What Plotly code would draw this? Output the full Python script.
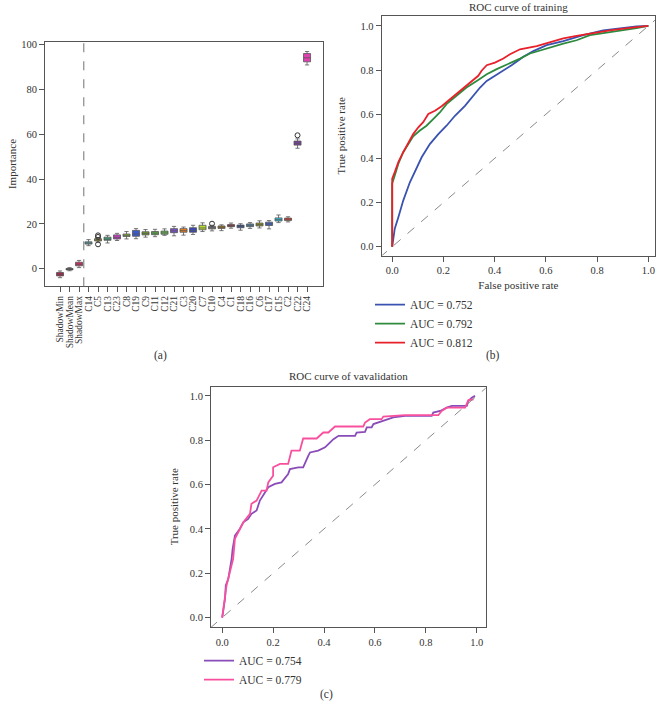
import plotly.graph_objects as go

W, H = 656, 702
FONT = "Liberation Serif"
TXT = "#333333"
AX = "#555555"

# ---------------- Panel (a): Boruta importance ----------------
FEATURES = ["ShadowMin", "ShadowMean", "ShadowMax", "C14", "C5", "C13", "C23", "C8", "C19",
            "C9", "C11", "C12", "C21", "C3", "C20", "C7", "C10", "C4", "C1", "C18", "C16",
            "C6", "C17", "C15", "C2", "C22", "C24"]
IMP_LOW = [-4.0, -0.9, 0.5, 10.3, 11.8, 11.5, 12.6, 13.3, 13.4, 14.1, 14.3, 14.9, 14.7, 15.0,
           15.3, 16.6, 16.9, 17.0, 18.1, 17.2, 18.0, 18.2, 17.8, 20.6, 20.9, 53.8, 91.0]
IMP_Q1 = [-3.2, -0.5, 1.3, 11.0, 12.4, 12.7, 13.3, 14.4, 14.5, 15.1, 15.2, 15.4, 16.1, 16.3,
          16.3, 17.4, 17.8, 18.0, 18.8, 18.3, 18.8, 19.1, 19.3, 21.3, 21.5, 55.2, 92.4]
IMP_MED = [-2.5, -0.2, 2.0, 11.4, 12.8, 13.2, 14.0, 14.9, 15.5, 15.8, 15.9, 16.0, 16.9, 17.0,
           17.1, 18.2, 18.2, 18.5, 19.2, 18.9, 19.4, 19.7, 20.0, 21.9, 22.1, 56.0, 94.2]
IMP_Q3 = [-1.7, 0.1, 2.9, 12.0, 13.4, 14.1, 15.1, 15.5, 17.1, 16.5, 16.6, 16.8, 17.9, 17.9,
          18.3, 19.4, 18.9, 19.1, 19.7, 19.5, 20.0, 20.4, 20.8, 22.7, 22.6, 57.0, 96.1]
IMP_HIGH = [-1.0, 0.5, 3.7, 13.0, 13.9, 14.9, 15.8, 16.6, 17.9, 17.5, 17.6, 17.8, 18.9, 18.6,
            19.4, 20.5, 19.4, 19.6, 20.4, 20.1, 20.6, 21.4, 21.5, 24.0, 23.2, 58.0, 97.0]
BOX_COLORS = ["#b0204a", "#222222", "#d02a62", "#5aa8b0", "#b09a20", "#3f9f78", "#c040c0",
              "#8ac040", "#3a5ad0", "#78a030", "#5ab040", "#66c050", "#7a50d0", "#f08020",
              "#3848b8", "#b8dc30", "#707070", "#a87818", "#a81a2a", "#2a4aa0", "#4a8ab0",
              "#9a9a20", "#3a60c8", "#30c0e0", "#f03a20", "#7a40a0", "#e040b0"]
OUTLIER_FEATURES = ["C5", "C5", "C5", "C10", "C22"]
OUTLIER_VALUES = [10.9, 14.2, 14.9, 20.1, 59.6]
IMP_TICKS = [0, 20, 40, 60, 80, 100]

# ---------------- Panel (b): ROC of training ----------------
TRAIN_LABELS = ["AUC = 0.752", "AUC = 0.792", "AUC = 0.812"]
TRAIN_COLORS = ["#3a52b0", "#2e8b3e", "#e8202a"]
TRAIN_FPR_1 = [0, 0.004, 0.01, 0.024, 0.043, 0.069, 0.095, 0.115, 0.147, 0.18, 0.212, 0.245,
               0.284, 0.323, 0.343, 0.369, 0.401, 0.434, 0.466, 0.499, 0.512, 0.551, 0.603,
               0.668, 0.746, 0.824, 0.876, 0.954, 1.0]
TRAIN_TPR_1 = [0, 0.044, 0.082, 0.134, 0.209, 0.292, 0.352, 0.405, 0.465, 0.51, 0.548, 0.593,
               0.638, 0.691, 0.721, 0.751, 0.774, 0.797, 0.822, 0.849, 0.86, 0.886, 0.913,
               0.931, 0.958, 0.98, 0.988, 0.998, 1.0]
TRAIN_FPR_2 = [0, 0, 0.01, 0.024, 0.043, 0.063, 0.082, 0.108, 0.134, 0.16, 0.186, 0.212, 0.251,
               0.29, 0.33, 0.369, 0.408, 0.453, 0.499, 0.538, 0.603, 0.668, 0.72, 0.772, 0.837,
               0.902, 0.954, 1.0]
TRAIN_TPR_2 = [0, 0.286, 0.323, 0.376, 0.428, 0.466, 0.5, 0.526, 0.548, 0.578, 0.608, 0.646,
               0.684, 0.721, 0.751, 0.781, 0.804, 0.826, 0.852, 0.875, 0.898, 0.92, 0.935, 0.958,
               0.97, 0.98, 0.99, 1.0]
TRAIN_FPR_3 = [0, 0, 0.01, 0.024, 0.043, 0.063, 0.082, 0.102, 0.121, 0.141, 0.167, 0.193, 0.219,
               0.245, 0.271, 0.304, 0.336, 0.349, 0.369, 0.401, 0.434, 0.46, 0.499, 0.564, 0.616,
               0.668, 0.72, 0.772, 0.85, 0.928, 0.987, 1.0]
TRAIN_TPR_3 = [0, 0.308, 0.338, 0.383, 0.428, 0.473, 0.51, 0.541, 0.564, 0.601, 0.616, 0.636,
               0.661, 0.687, 0.714, 0.744, 0.774, 0.797, 0.822, 0.834, 0.852, 0.872, 0.894,
               0.908, 0.925, 0.943, 0.955, 0.965, 0.98, 0.991, 1.0, 1.0]

# ---------------- Panel (c): ROC of validation ----------------
VALID_LABELS = ["AUC = 0.754", "AUC = 0.779"]
VALID_COLORS = ["#8a4cb8", "#f8509e"]
VALID_FPR_1 = [0, 0.011, 0.014, 0.024, 0.037, 0.041, 0.05, 0.069, 0.083, 0.102, 0.115, 0.135,
               0.148, 0.168, 0.181, 0.207, 0.233, 0.259, 0.266, 0.299, 0.318, 0.338, 0.345,
               0.377, 0.404, 0.417, 0.437, 0.457, 0.522, 0.528, 0.561, 0.568, 0.587, 0.594,
               0.613, 0.626, 0.653, 0.672, 0.718, 0.823, 0.829, 0.856, 0.882, 0.902, 0.961,
               0.967, 0.98, 0.993]
VALID_TPR_1 = [0, 0.085, 0.145, 0.175, 0.265, 0.31, 0.37, 0.4, 0.43, 0.445, 0.468, 0.483, 0.528,
               0.565, 0.588, 0.603, 0.61, 0.648, 0.67, 0.678, 0.678, 0.73, 0.745, 0.753, 0.768,
               0.783, 0.805, 0.82, 0.82, 0.835, 0.838, 0.858, 0.858, 0.873, 0.88, 0.888, 0.895,
               0.903, 0.91, 0.91, 0.925, 0.932, 0.947, 0.955, 0.955, 0.977, 0.992, 1.0]
VALID_FPR_2 = [0, 0.011, 0.017, 0.03, 0.043, 0.05, 0.063, 0.083, 0.109, 0.115, 0.135, 0.155,
               0.174, 0.181, 0.2, 0.2, 0.227, 0.259, 0.272, 0.305, 0.318, 0.371, 0.397, 0.417,
               0.443, 0.554, 0.561, 0.58, 0.626, 0.633, 0.718, 0.849, 0.862, 0.882, 0.954, 0.961,
               0.967, 0.987]
VALID_TPR_2 = [0, 0.085, 0.145, 0.205, 0.265, 0.355, 0.385, 0.43, 0.468, 0.513, 0.528, 0.573,
               0.573, 0.61, 0.64, 0.678, 0.693, 0.693, 0.753, 0.753, 0.808, 0.808, 0.835, 0.835,
               0.862, 0.862, 0.88, 0.895, 0.895, 0.907, 0.913, 0.913, 0.932, 0.947, 0.947, 0.962,
               0.981, 0.985]

DIAG = [-0.1, 1.1]
ROC_TICKS = [0.0, 0.2, 0.4, 0.6, 0.8, 1.0]


def px_x(p):
    return p / W


def px_y(p):
    return 1 - p / H


fig = go.Figure()

# ----- boxes -----
idx = list(range(len(FEATURES)))
for i, name in enumerate(FEATURES):
    fig.add_trace(go.Box(
        x=[i], q1=[IMP_Q1[i]], median=[IMP_MED[i]], q3=[IMP_Q3[i]],
        lowerfence=[IMP_LOW[i]], upperfence=[IMP_HIGH[i]],
        fillcolor=BOX_COLORS[i], line=dict(color="#555555", width=0.8),
        width=0.74, whiskerwidth=0.6, boxpoints=False, name=name,
        showlegend=False, xaxis="x", yaxis="y", hoverinfo="skip"))

fig.add_trace(go.Scatter(
    x=[FEATURES.index(f) for f in OUTLIER_FEATURES], y=OUTLIER_VALUES, mode="markers",
    marker=dict(symbol="circle-open", size=5, color="#333333", line=dict(width=1)),
    showlegend=False, xaxis="x", yaxis="y", hoverinfo="skip"))

# ----- ROC training -----
for fpr, tpr, lab, col in zip([TRAIN_FPR_1, TRAIN_FPR_2, TRAIN_FPR_3],
                              [TRAIN_TPR_1, TRAIN_TPR_2, TRAIN_TPR_3],
                              TRAIN_LABELS, TRAIN_COLORS):
    fig.add_trace(go.Scatter(x=fpr, y=tpr, mode="lines", name=lab,
                             line=dict(color=col, width=1.8),
                             xaxis="x2", yaxis="y2", legend="legend"))
fig.add_trace(go.Scatter(x=DIAG, y=DIAG, mode="lines", showlegend=False,
                         line=dict(color="#8a8a8a", width=1, dash="dash"),
                         xaxis="x2", yaxis="y2"))

# ----- ROC validation -----
for fpr, tpr, lab, col in zip([VALID_FPR_1, VALID_FPR_2], [VALID_TPR_1, VALID_TPR_2],
                              VALID_LABELS, VALID_COLORS):
    fig.add_trace(go.Scatter(x=fpr, y=tpr, mode="lines", name=lab,
                             line=dict(color=col, width=1.8),
                             xaxis="x3", yaxis="y3", legend="legend2"))
fig.add_trace(go.Scatter(x=DIAG, y=DIAG, mode="lines", showlegend=False,
                         line=dict(color="#8a8a8a", width=1, dash="dash"),
                         xaxis="x3", yaxis="y3"))

axis_common = dict(showline=True, linecolor=AX, linewidth=1, mirror=True, ticks="outside",
                   ticklen=5, tickcolor=AX, showgrid=False, zeroline=False,
                   ticklabeloverflow="allow",
                   tickfont=dict(family=FONT, size=10.5, color=TXT))

fig.update_layout(
    width=W, height=H, margin=dict(l=0, r=0, t=0, b=0),
    paper_bgcolor="white", plot_bgcolor="white",
    font=dict(family=FONT, color=TXT),
    boxmode="overlay",
    xaxis=dict(domain=[px_x(45), px_x(323)], range=[-1.58, 27.68], anchor="y",
               tickmode="array", tickvals=idx, ticktext=FEATURES, tickangle=-90,
               **{**axis_common, "tickfont": dict(family=FONT, size=9.5, color=TXT)}),
    yaxis=dict(domain=[px_y(285), px_y(40)], range=[-7.8, 101.3], anchor="x",
               tickmode="array", tickvals=IMP_TICKS,
               title=dict(text="Importance", standoff=2,
                          font=dict(family=FONT, size=11, color=TXT)),
               **axis_common),
    xaxis2=dict(domain=[px_x(381.7), px_x(655)], range=[-0.041, 1.026], anchor="y2",
                tickmode="array", tickvals=ROC_TICKS, tickformat=".1f",
                title=dict(text="False positive rate", standoff=6,
                           font=dict(family=FONT, size=11, color=TXT)),
                **axis_common),
    yaxis2=dict(domain=[px_y(254.3), px_y(14)], range=[-0.04, 1.045], anchor="x2",
                tickmode="array", tickvals=ROC_TICKS, tickformat=".1f",
                title=dict(text="True positive rate", standoff=12,
                           font=dict(family=FONT, size=11, color=TXT)),
                **axis_common),
    xaxis3=dict(domain=[px_x(211), px_x(485.7)], range=[-0.044, 1.035], anchor="y3",
                tickmode="array", tickvals=ROC_TICKS, tickformat=".1f", **axis_common),
    yaxis3=dict(domain=[px_y(626.7), px_y(385.7)], range=[-0.042, 1.042], anchor="x3",
                tickmode="array", tickvals=ROC_TICKS, tickformat=".1f",
                title=dict(text="True positive rate", standoff=8,
                           font=dict(family=FONT, size=11, color=TXT)),
                **axis_common),
    legend=dict(x=px_x(370), y=px_y(289), xanchor="left", yanchor="top",
                bgcolor="rgba(0,0,0,0)", font=dict(family=FONT, size=11.5, color=TXT),
                tracegroupgap=0),
    legend2=dict(x=px_x(199), y=px_y(646), xanchor="left", yanchor="top",
                 bgcolor="rgba(0,0,0,0)", font=dict(family=FONT, size=11.5, color=TXT),
                 tracegroupgap=0),
    shapes=[dict(type="line", xref="x", yref="y domain", x0=2.5, x1=2.5, y0=0, y1=1,
                 line=dict(color="#8a8a8a", width=1.2, dash="dash"))],
    annotations=[
        dict(text="ROC curve of training", xref="x2 domain", x=0.5, yref="paper",
             y=px_y(5), xanchor="center", yanchor="middle", showarrow=False,
             font=dict(family=FONT, size=11, color=TXT)),
        dict(text="ROC curve of vavalidation", xref="x3 domain", x=0.5, yref="paper",
             y=px_y(375), xanchor="center", yanchor="middle", showarrow=False,
             font=dict(family=FONT, size=11, color=TXT)),
        dict(text="(a)", xref="paper", x=px_x(160), yref="paper", y=px_y(355),
             xanchor="center", yanchor="middle", showarrow=False,
             font=dict(family=FONT, size=11.5, color=TXT)),
        dict(text="(b)", xref="paper", x=px_x(493), yref="paper", y=px_y(355),
             xanchor="center", yanchor="middle", showarrow=False,
             font=dict(family=FONT, size=11.5, color=TXT)),
        dict(text="(c)", xref="paper", x=px_x(326), yref="paper", y=px_y(694),
             xanchor="center", yanchor="middle", showarrow=False,
             font=dict(family=FONT, size=11.5, color=TXT)),
    ],
)

fig.write_html("out.html", config={"displayModeBar": False},
               post_script="document.body.style.margin='0px';")
